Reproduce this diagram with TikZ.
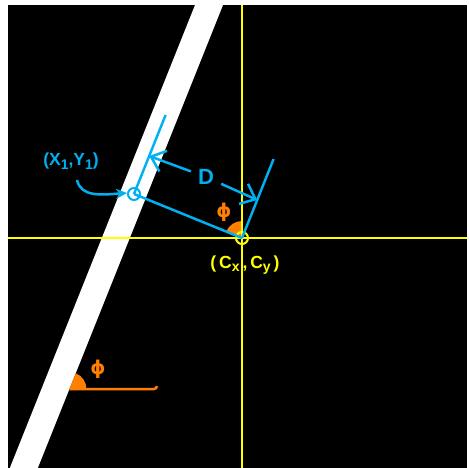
\documentclass[tikz,border=0pt]{standalone}
\usepackage{fontspec}
\setmainfont{Liberation Sans}
\newfontfamily\phifont{DejaVu Sans}
\usetikzlibrary{arrows.meta,calc}
\definecolor{cy}{RGB}{0,176,240}
\definecolor{yl}{RGB}{255,255,0}
\definecolor{orn}{RGB}{255,128,0}
\newcommand\lowsub[2]{\raisebox{-#1pt}{\fontsize{14}{14}\selectfont #2}}
\begin{document}
\begin{tikzpicture}[x=1pt,y=-1pt,
  cyanline/.style={cy,line width=2.5pt},
  axisline/.style={yl,line width=2.5pt},
  lbl/.style={font=\fontsize{17.5}{17.5}\selectfont\bfseries,inner sep=0pt},
  philbl/.style={text=orn,font=\phifont\bfseries\fontsize{19}{19}\selectfont,inner sep=0pt},
  barb/.style={-{Straight Barb[length=13pt,width=22pt]}}]
\useasboundingbox (0,0) rectangle (469,468);
\fill[white] (0,0) rectangle (469,468);
\fill[black] (8,5) rectangle (467,468);
% stripe
\fill[white] (195,5) -- (223,5) -- (37.8,468) -- (9.8,468) -- cycle;
% key points
\coordinate (C) at (242,238);
\coordinate (P) at (134,194);
\coordinate (Pe) at ($(P)+(31.6,-79)$);
\coordinate (Ce) at ($(C)+(31.6,-79)$);
\coordinate (L) at ($(P)+(15.2,-38)$);
\coordinate (R) at ($(C)+(15.2,-38)$);
\coordinate (B) at (69.4,389);
\coordinate (Bend) at (157,389);
\coordinate (HL) at (8,238);
\coordinate (HR) at (467,238);
\coordinate (VT) at (242,5);
\coordinate (VB) at (242,468);
% orange sectors
\fill[orn] (C) -- ++(90:17pt) arc[start angle=90,end angle=158,radius=17pt] -- cycle;
\fill[orn] (B) -- ++(0:17pt) arc[start angle=0,end angle=68,radius=17pt] -- cycle;
% axes
\draw[axisline] (HL) -- (HR);
\draw[axisline] (VT) -- (VB);
\draw[yl,line width=2pt] (C) circle (6pt);
% orange base line
\draw[orn,line width=2.5pt] (B) -- ($(Bend)+(-3,0)$) to[out=0,in=-90] ($(Bend)+(0,-3)$);
% cyan geometry
\draw[cyanline] (P) -- (C);
\draw[cyanline] (P) -- (Pe);
\draw[cyanline] (C) -- (Ce);
\draw[cy,line width=2pt] (P) circle (6pt);
\node[text=cy,font=\fontsize{22}{22}\selectfont\bfseries,inner xsep=7pt,inner ysep=2pt] (D) at (206,177) {D};
\draw[cyanline,barb] (D) -- (L);
\draw[cyanline,barb] (D) -- (R);
% labels
\node[lbl,text=cy] (XY) at (71,161) {(X\lowsub{4}{1},Y\lowsub{4}{1})};
\coordinate (cs) at (77,180);
\draw[cyanline,-{Stealth[length=11pt,width=10pt]}] (cs) .. controls (81,197) and (100,195) .. (127,193);
\node[lbl,text=yl] (CL) at (245,265) {(\,C\lowsub{3}{x}\,,\,C\lowsub{3}{y}\,)};
\node[philbl] (phi1) at (224,212) {ϕ};
\node[philbl] (phi2) at (98,369) {ϕ};
\end{tikzpicture}
\end{document}
